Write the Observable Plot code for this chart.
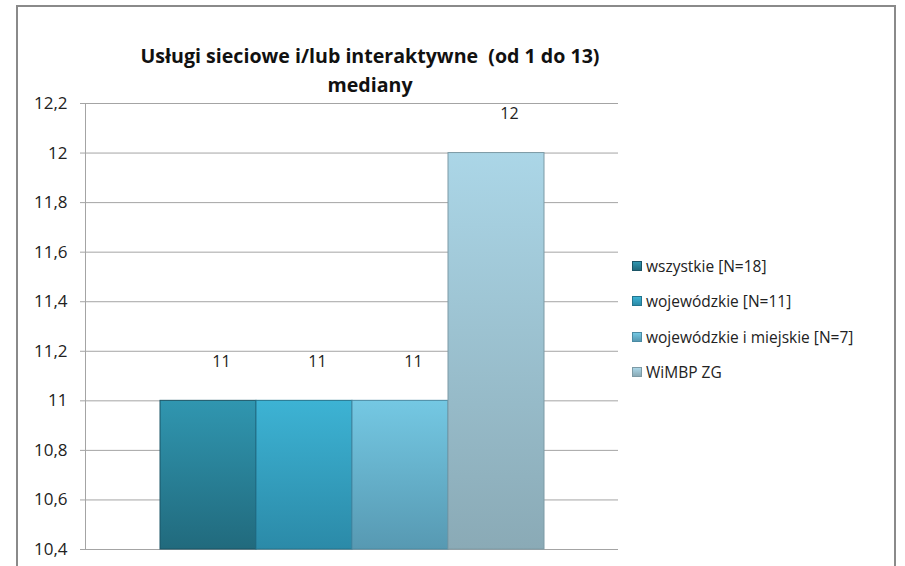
<!DOCTYPE html>
<html>
<head>
<meta charset="utf-8">
<script src="https://cdn.jsdelivr.net/npm/d3@7"></script>
<script src="https://cdn.jsdelivr.net/npm/@observablehq/plot@0.6"></script>
<style>
  html, body { margin: 0; padding: 0; background: #fff; }
  #wrap { position: relative; width: 905px; height: 566px; overflow: hidden; font-family: "Open Sans", sans-serif; }
  #border { position: absolute; left: 16px; top: 5px; width: 880px; height: 600px; border: 2px solid #8a8a8a; box-sizing: border-box; }
  #title { position: absolute; left: 70px; width: 600px; top: 41px; text-align: center; font-weight: bold; font-size: 19.6px; line-height: 29px; color: #111; }
  #chart { position: absolute; left: 0; top: 90px; }
  #legend { position: absolute; left: 632px; top: 255px; font-size: 15.5px; color: #222; }
  .row { height: 35.3px; display: flex; align-items: flex-start; white-space: nowrap; }
  .sw { width: 10px; height: 10px; margin-right: 4px; margin-top: 6px; box-sizing: border-box; }
</style>
</head>
<body>
<div id="wrap">
  <div id="border"></div>
  <div id="title"></div>
  <div id="chart"></div>
  <div id="legend"></div>
</div>
<script>
const titleLines = ["Usługi sieciowe i/lub interaktywne\u00a0 (od 1 do 13)", "mediany"];
const categories = ["wszystkie [N=18]", "wojewódzkie [N=11]", "wojewódzkie i miejskie [N=7]", "WiMBP ZG"];
const values = [11, 11, 11, 12];
const yTicks = [10.4, 10.6, 10.8, 11, 11.2, 11.4, 11.6, 11.8, 12, 12.2];
const colorsTop = ["#3096b0", "#3db3d4", "#74c8e3", "#abd6e7"];
const colorsBottom = ["#216a7d", "#2b8aa8", "#5799b2", "#8aaab6"];
const edgeColors = ["#1b5566", "#22758e", "#4a8aa3", "#7d9aa5"];

const data = categories.map((c, i) => ({category: c, value: values[i]}));
const fmt = v => String(Math.round(v * 10) / 10).replace(".", ",");

document.getElementById("title").innerHTML = titleLines.map(t => `<div>${t}</div>`).join("");

const plot = Plot.plot({
  width: 905,
  height: 476,
  marginLeft: 85,
  marginRight: 287,
  marginTop: 13,
  marginBottom: 17,
  style: {fontFamily: "'Open Sans', sans-serif", background: "transparent", overflow: "visible"},
  x: {domain: categories, paddingInner: 0, paddingOuter: 0.776, axis: null},
  y: {domain: [10.4, 12.2], axis: null},
  color: {domain: categories, range: categories.map((c, i) => `url(#grad${i})`)},
  marks: [
    Plot.ruleY(yTicks, {stroke: "#a4a4a4", strokeWidth: 1}),
    Plot.axisY({ticks: yTicks, label: null, tickSize: 5, tickPadding: 13, tickFormat: fmt, stroke: "#a4a4a4", fill: "#222", fontSize: 17}),
    Plot.frame({anchor: "left", stroke: "#a4a4a4"}),
    Plot.barY(data, {x: "category", y1: 10.4, y2: "value", fill: "category", stroke: (d) => edgeColors[categories.indexOf(d.category)], strokeWidth: 1, inset: 0}),
    Plot.text(data, {x: "category", y: "value", text: d => fmt(d.value), dx: 13, dy: -39, fontSize: 16, fill: "#222"})
  ]
});

// gradients
const ns = "http://www.w3.org/2000/svg";
const svg = plot.tagName.toLowerCase() === "svg" ? plot : plot.querySelector("svg");
const defs = document.createElementNS(ns, "defs");
categories.forEach((c, i) => {
  const g = document.createElementNS(ns, "linearGradient");
  g.setAttribute("id", `grad${i}`);
  g.setAttribute("x1", "0"); g.setAttribute("y1", "0");
  g.setAttribute("x2", "0"); g.setAttribute("y2", "1");
  [[0, colorsTop[i]], [1, colorsBottom[i]]].forEach(([o, col]) => {
    const s = document.createElementNS(ns, "stop");
    s.setAttribute("offset", o);
    s.setAttribute("stop-color", col);
    g.appendChild(s);
  });
  defs.appendChild(g);
});
svg.insertBefore(defs, svg.firstChild);
document.getElementById("chart").appendChild(plot);

// legend
const legend = document.getElementById("legend");
categories.forEach((c, i) => {
  const row = document.createElement("div");
  row.className = "row";
  row.innerHTML = `<div class="sw" style="background:linear-gradient(${colorsTop[i]}, ${colorsBottom[i]});border:1px solid ${edgeColors[i]}"></div><span>${c}</span>`;
  legend.appendChild(row);
});
</script>
</body>
</html>
